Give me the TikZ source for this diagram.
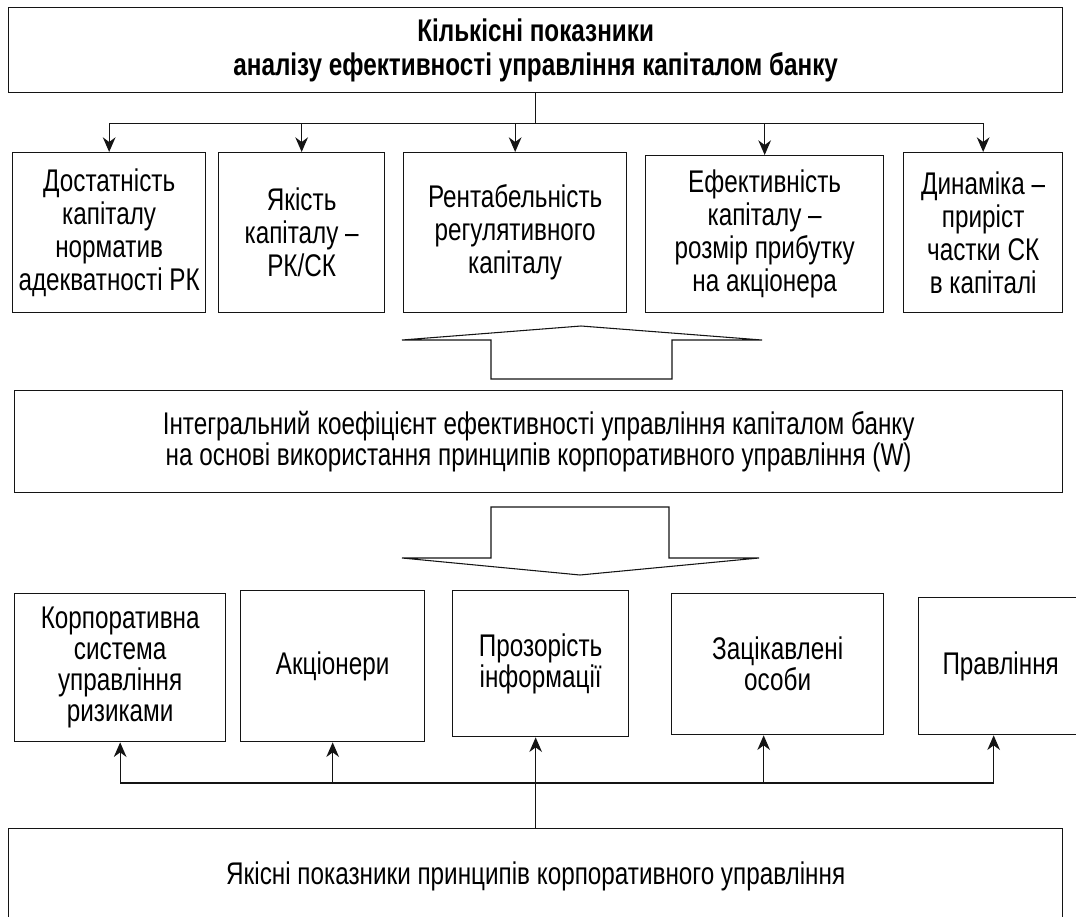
\documentclass[tikz,border=0pt]{standalone}
\usepackage{fontspec}
\setmainfont{Liberation Sans}[FakeStretch=0.775]
\usetikzlibrary{arrows.meta, calc}
\definecolor{cLine}{RGB}{20,20,20}
\def\pxu{0.75pt}
\tikzset{
  %% boxes (placed by their top-left corner)
  cell/.style={rectangle, draw=cLine, line width=1pt, align=center,
               inner sep=0pt, anchor=north west},
  headbox/.style={cell, font=\bfseries\fontsize{23.5}{25.5}\selectfont},
  quantbox/.style={cell, font=\fontsize{23.5}{24.75}\selectfont},
  mainbox/.style={cell, font=\fontsize{23.5}{23.5}\selectfont},
  qualbox/.style={cell, font=\fontsize{23.5}{23.25}\selectfont},
  %% connectors
  link/.style={draw=cLine, line width=1pt},
  linkarrow/.style={link, -{Stealth[length=11pt, width=9.5pt, inset=3.5pt]}},
  %% hollow block arrows
  bigarrow/.style={draw=cLine, line width=0.8pt, line join=miter},
}

\begin{document}
\begin{tikzpicture}[x=0.75pt, y=-0.75pt]
\useasboundingbox (0,0) rectangle (1076,917);

%% ============================================================
%%  HEADER: quantitative indicators
%% ============================================================
\node[headbox, minimum width=1054*\pxu, minimum height=85*\pxu] (quant) at (8,7)
  {Кількісні показники\\аналізу ефективності управління капіталом банку};

%% ----- Quantitative row -----
\node[quantbox, minimum width=193*\pxu, minimum height=160*\pxu] (r1) at (12,152)
  {Достатність\\капіталу\\норматив\\адекватності РК};
\node[quantbox, minimum width=166*\pxu, minimum height=160*\pxu] (r2) at (218,152)
  {Якість\\капіталу –\\РК/СК};
\node[quantbox, minimum width=223*\pxu, minimum height=160*\pxu] (r3) at (403,152)
  {Рентабельність\\регулятивного\\капіталу};
\node[quantbox, minimum width=238*\pxu, minimum height=157*\pxu] (r4) at (645,155)
  {Ефективність\\капіталу –\\розмір прибутку\\на акціонера};
\node[quantbox, minimum width=159*\pxu, minimum height=160*\pxu] (r5) at (903,152)
  {Динаміка –\\приріст\\частки СК\\в капіталі};

%% tree from header to the row
\coordinate (qhub) at ($(quant.south)+(0,30)$);
\draw[link] (quant.south) -- (qhub);
\foreach \n in {r1,r2,r3,r4,r5} {
  \draw[linkarrow] (qhub) -| (\n.north);
}

%% ============================================================
%%  INTEGRAL COEFFICIENT
%% ============================================================
\node[mainbox, minimum width=1048*\pxu, minimum height=102*\pxu] (integral) at (14,390)
  {Інтегральний коефіцієнт ефективності управління капіталом банку\\
   на основі використання принципів корпоративного управління (W)};

%% block arrow up (into the row above)
\draw[bigarrow] (491,379) -- (491,340) -- (402,340) -- (581,326)
  -- (762,340) -- (672,340) -- (672,379) -- cycle;

%% block arrow down (into the row below)
\draw[bigarrow] (491,507) -- (669,507) -- (669,558) -- (759,558)
  -- (580,575) -- (402,558) -- (491,558) -- cycle;

%% ============================================================
%%  QUALITATIVE ROW
%% ============================================================
\node[qualbox, minimum width=211*\pxu, minimum height=148*\pxu] (s1) at (14,593)
  {Корпоративна\\система\\управління\\ризиками};
\node[qualbox, minimum width=184*\pxu, minimum height=151*\pxu] (s2) at (240,590)
  {Акціонери};
\node[qualbox, minimum width=176*\pxu, minimum height=146*\pxu] (s3) at (452,590)
  {Прозорість\\інформації};
\node[qualbox, minimum width=212*\pxu, minimum height=141*\pxu] (s4) at (671,593)
  {Зацікавлені\\особи};
\node[qualbox, minimum width=164*\pxu, minimum height=137*\pxu] (s5) at (918,597)
  {Правління};

%% ----- Footer: qualitative indicators -----
\node[qualbox, minimum width=1054*\pxu, minimum height=96*\pxu] (qual) at (8,828)
  {Якісні показники принципів корпоративного управління};

%% tree from footer up to the row
\coordinate (lhub) at ($(qual.north)+(0,-45)$);
\draw[linkarrow] (qual.north) -- (qual.north |- s3.south);
\draw[linkarrow] (lhub) -| (s1.south);
\draw[linkarrow] (lhub) -| (s2.south);
\draw[linkarrow] (lhub) -| ($(s4.south)+(-14,0)$);
\draw[linkarrow] (lhub) -| ($(s5.south)+(-7,0)$);

\end{tikzpicture}
\end{document}
